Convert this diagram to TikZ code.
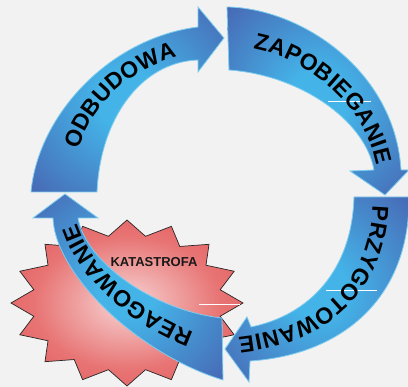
\documentclass[tikz,border=0pt]{standalone}
\usepackage{fontspec}
\setmainfont{Liberation Sans}
\usetikzlibrary{decorations.text}

\definecolor{bgray}{HTML}{F2F2F2}
\definecolor{arrowlight}{HTML}{44B3E8}
\definecolor{arrowdark}{HTML}{4862B0}
\definecolor{arrowrim}{HTML}{7CCDEF}
\definecolor{burstlight}{HTML}{F7D4D4}
\definecolor{burstmid}{HTML}{E87474}
\definecolor{burstdark}{HTML}{DF4D4D}

\pgfdeclareradialshading{arrowfill}{\pgfpoint{0bp}{0bp}}{color(0bp)=(arrowlight); color(8bp)=(arrowlight); color(38bp)=(arrowdark); color(50bp)=(arrowdark)}
\pgfdeclareradialshading{burstfill}{\pgfpoint{0bp}{0bp}}{color(0bp)=(burstlight); color(20bp)=(burstmid); color(40bp)=(burstdark); color(50bp)=(burstdark)}

\newcommand{\cyclefont}{\fontsize{23}{23}\selectfont\bfseries}
\newcommand{\lsp}{\kern1.2pt}

\tikzset{
	cyclearrow/.style={shade, shading=arrowfill, draw=arrowrim, line width=0.8pt},
	arclabel/.style={decorate, decoration={text along path, text align=center, raise=-8.5pt, text={|\cyclefont|#1}}},
	burst/.style={shade, shading=burstfill, draw=black!85, line width=0.7pt},
	seam/.style={draw=white, line width=0.6pt}
}

\begin{document}
\begin{tikzpicture}[x=1pt,y=-1pt]
	\fill[bgray] (0,0) rectangle (408,387);
	\useasboundingbox (0,0) rectangle (408,387);

	% katastrofa
	\begin{scope}[shift={(127,303)}]
		\path[burst] (0:116 and 83) \foreach \k in {0,...,15} { -- ({\k*22.5+11.25}:95 and 68) -- ({\k*22.5+22.5}:116 and 83) } -- cycle;
	\end{scope}
	\draw[seam] (199,304) -- (240,304);
	\node[text=black!90] (kat) at (154,262) {\fontsize{13}{13}\selectfont\bfseries KATASTROFA};

	% odbudowa
	\path[cyclearrow] (31,192) .. controls (38,115) and (110,38) .. (198,27) -- (198,7) -- (224,38) -- (198,72) -- (198,60) .. controls (140,62) and (100,120) .. (97,192) -- cycle;
	\path[arclabel={O{\lsp}D{\lsp}B{\lsp}U{\lsp}D{\lsp}O{\lsp}W{\lsp}A}] (64,180) .. controls (69,110) and (125,48) .. (208,44);

	% zapobieganie
	\path[cyclearrow] (227,7) .. controls (300,8) and (395,70) .. (401,170) -- (409,170) -- (385,195) -- (350,171) -- (374,170) .. controls (365,120) and (300,75) .. (229,70) -- cycle;
	\draw[seam] (328,101) -- (371,101);
	\path[arclabel={Z{\lsp}A{\lsp}P{\lsp}O{\lsp}B{\lsp}I{\lsp}E{\lsp}G{\lsp}A{\lsp}N{\lsp}I{\lsp}E}] (236,38) .. controls (305,42) and (382,100) .. (387,182);

	% przygotowanie
	\path[cyclearrow] (409,197) .. controls (410,300) and (340,355) .. (250,361) -- (249,382) -- (225,349) -- (247,317) -- (251,327) .. controls (310,315) and (352,270) .. (354,197) -- cycle;
	\draw[seam] (326,290) -- (377,290);
	\path[arclabel={P{\lsp}R{\lsp}Z{\lsp}Y{\lsp}G{\lsp}O{\lsp}T{\lsp}O{\lsp}W{\lsp}A{\lsp}N{\lsp}I{\lsp}E}] (381,203) .. controls (381,288) and (322,338) .. (236,346);

	% reagowanie
	\path[cyclearrow] (222,318) .. controls (150,310) and (85,260) .. (78,218) -- (98,218) -- (65,194) -- (33,218) -- (53,218) .. controls (55,275) and (140,355) .. (223,380) -- cycle;
	\path[arclabel={R{\lsp}E{\lsp}A{\lsp}G{\lsp}O{\lsp}W{\lsp}A{\lsp}N{\lsp}I{\lsp}E}] (210,346) .. controls (140,330) and (68,262) .. (65,206);
\end{tikzpicture}
\end{document}
